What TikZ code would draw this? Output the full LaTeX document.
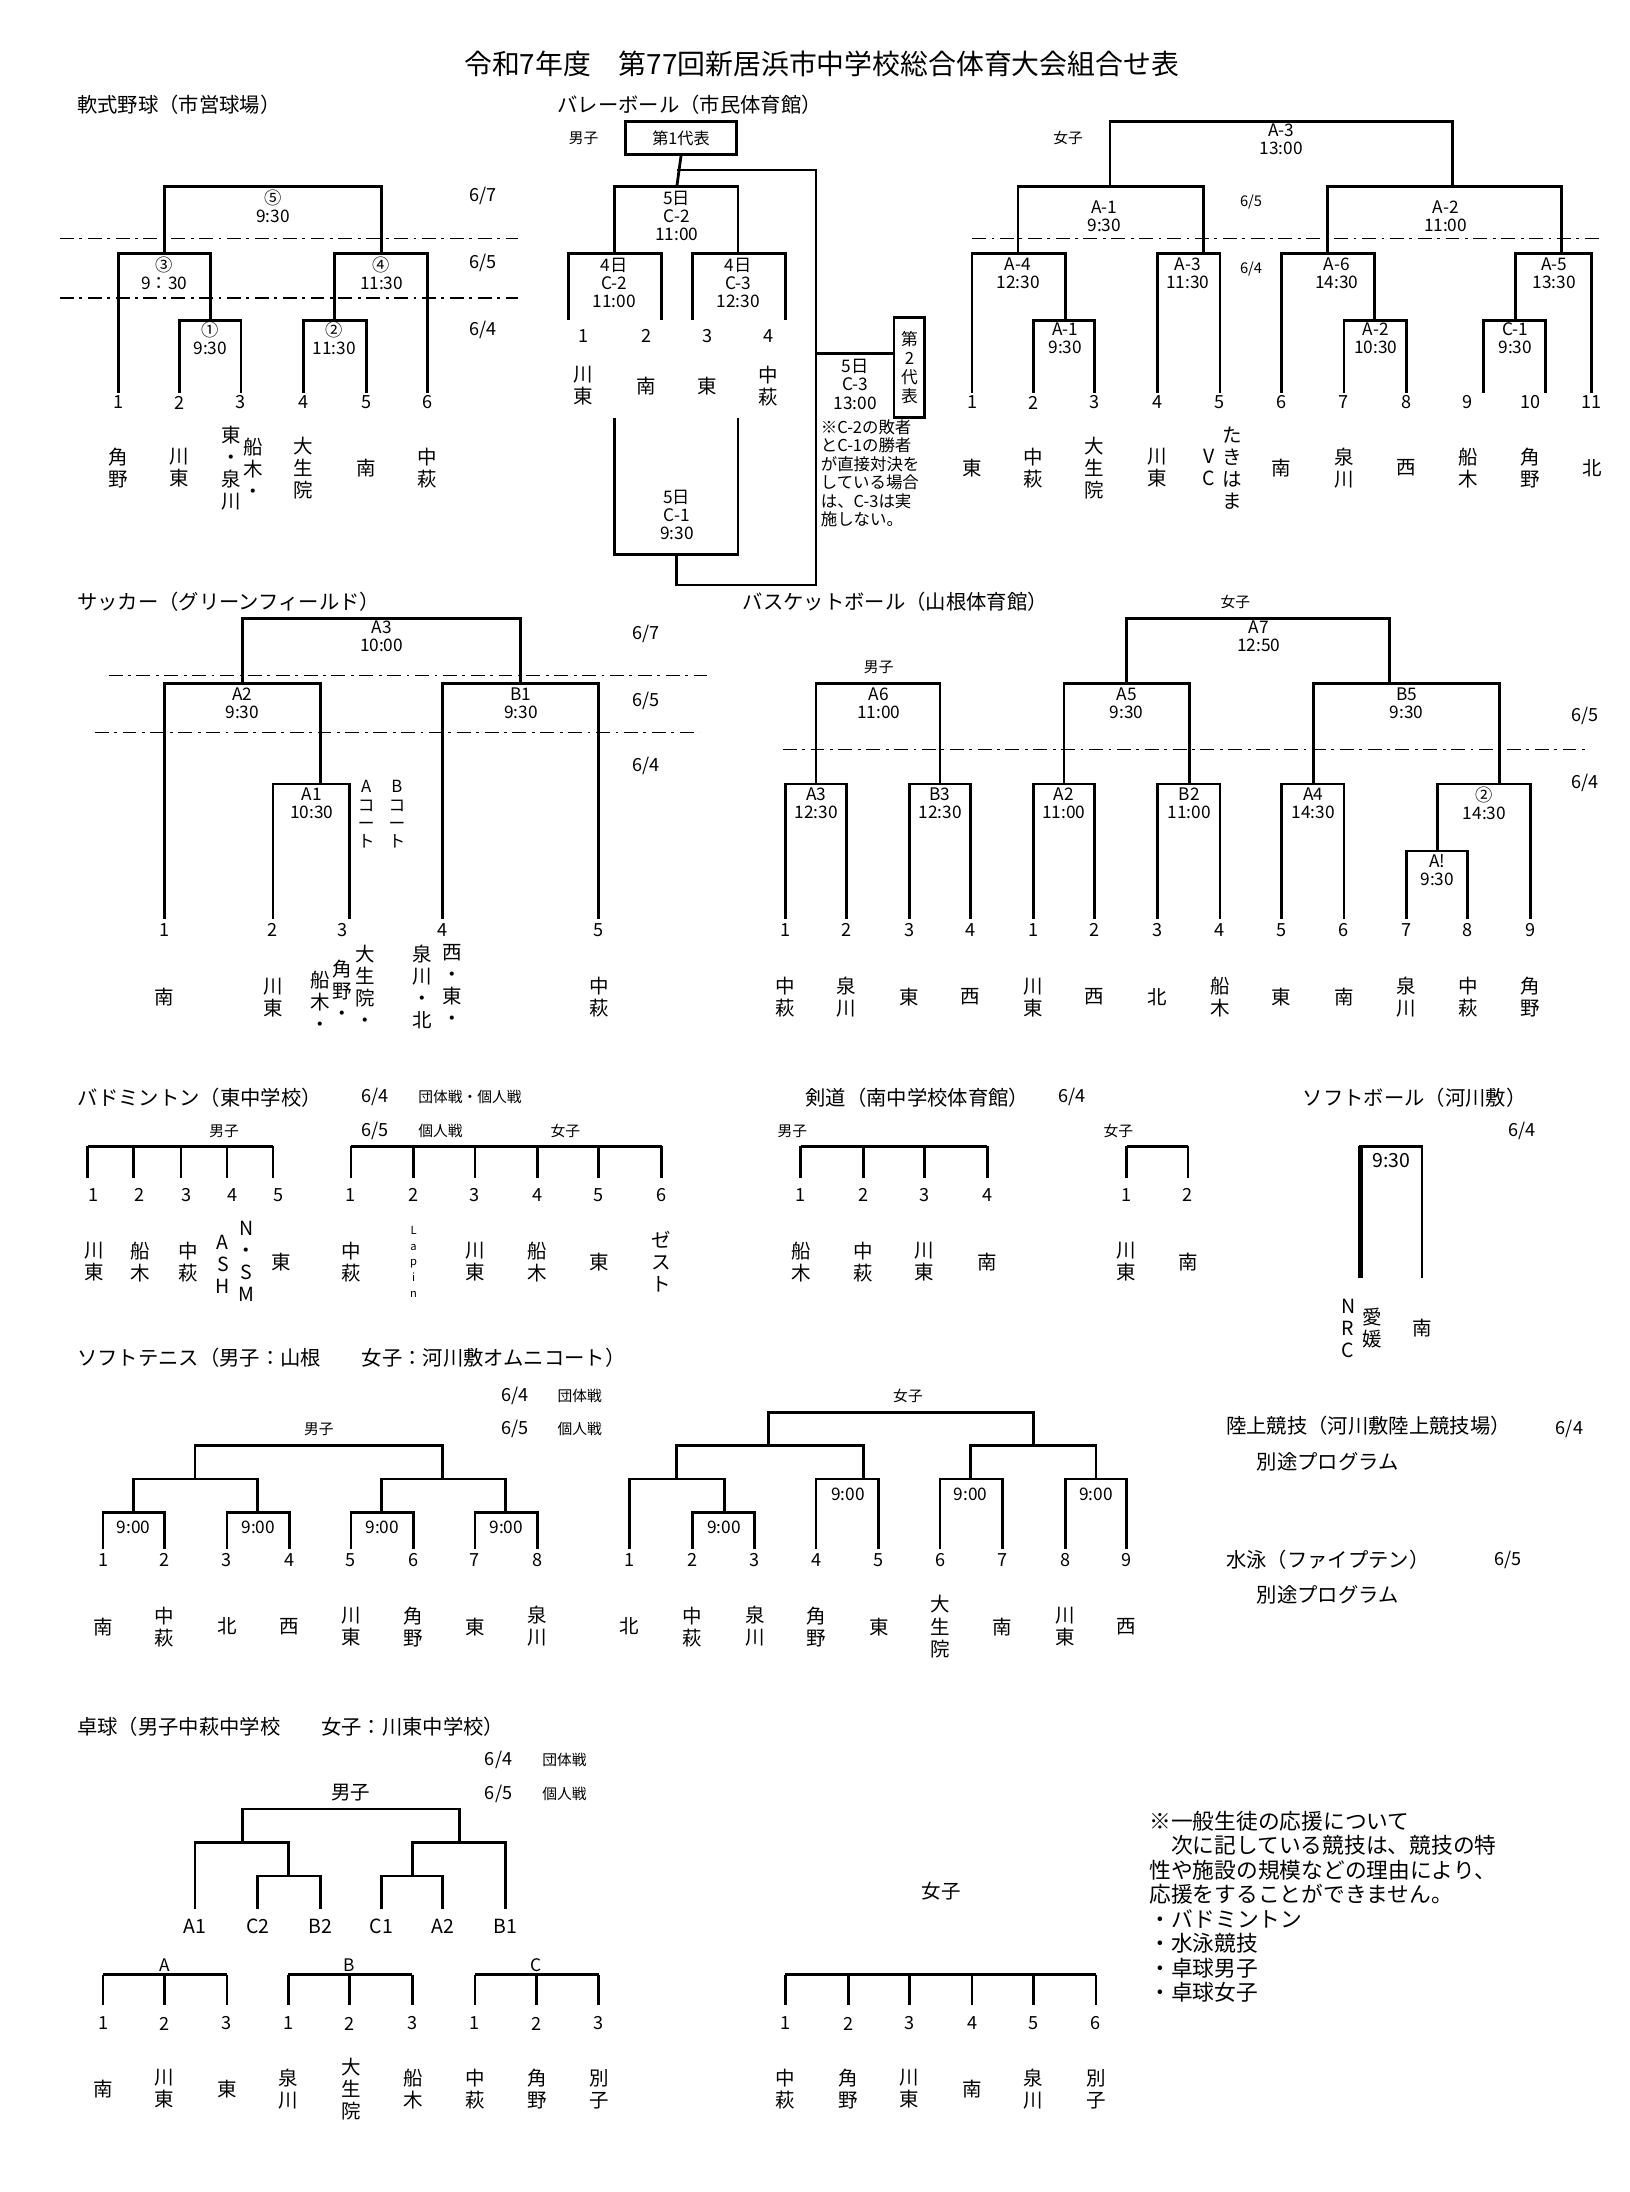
\documentclass[tikz,border=0pt]{standalone}
\usepackage{fontspec}
\setmainfont{Noto Sans CJK JP}
\tikzset{
  br/.style={line width=1pt},
  dd/.style={line width=0.4pt, dash pattern=on 5pt off 2pt on 1pt off 2pt},
  lb/.style={font=\fontsize{6.2}{6.5}\selectfont, align=center, inner sep=0pt},
  nm/.style={font=\fontsize{7}{7.9}\selectfont, align=center, inner sep=0pt},
  num/.style={font=\fontsize{6.5}{7}\selectfont, inner sep=0pt},
  ttl/.style={font=\fontsize{7.3}{8}\selectfont, anchor=west, inner sep=0pt},
  sm/.style={font=\fontsize{5.3}{6}\selectfont, anchor=west, inner sep=0pt},
}
% bracket: left x, right x, top y, left end y, right end y
\newcommand\mt[5]{\draw[br] (#1,#4) |- (#2,#3) -- (#2,#5);}
\begin{document}
\begin{tikzpicture}[x=0.5pt, y=-0.5pt]
\useasboundingbox (0,0) rectangle (1170,1574);
\node[font=\fontsize{10}{11}\selectfont] (title) at (590,46) {令和7年度　第77回新居浜市中学校総合体育大会組合せ表};

% 軟式野球
\node[ttl] (bb) at (55,75) {軟式野球（市営球場）};
\draw[dd] (43,171) -- (372,171);
\draw[dd] (43,214) -- (372,214);
\mt{118}{274}{134}{182}{182}
\mt{85}{151}{182}{282}{230}
\mt{129}{173}{230}{282}{282}
\mt{240}{307}{182}{230}{282}
\mt{218}{263}{230}{282}{282}
\node[lb] at (196,148) {⑤\\9:30};
\node[lb] at (118,196) {③\\9：30};
\node[lb] at (151,243) {①\\9:30};
\node[lb] at (274,196) {④\\11:30};
\node[lb] at (240,243) {②\\11:30};
\node[num] at (347,141) {6/7};
\node[num] at (347,189) {6/5};
\node[num] at (347,237) {6/4};
\foreach \x [count=\i] in {85,129,173,218,263,307} \node[num] at (\x,289) {\i};
\foreach \x/\t in {85/{角\\野},129/{川\\東},166/{東\\・\\泉\\川},182/{船\\木\\・},218/{大\\生\\院},263/{南},307/{中\\萩}}
  \node[nm] at (\x,336) {\t};

% バレーボール
\node[ttl] (vb) at (400,75) {バレーボール（市民体育館）};
\node[sm] at (408,99) {男子};
\node[draw, br, minimum width=40pt, minimum height=12pt, inner sep=0pt, font=\fontsize{5.8}{6}\selectfont] (rep1) at (489,99) {第1代表};
\draw[br] (rep1.south) -- (486,134);
\mt{441}{530}{134}{182}{182}
\mt{408}{475}{182}{230}{230}
\mt{497}{564}{182}{230}{230}
\draw[br] (486,122) -- (586,122) -- (586,420) -- (486,420) -- (486,398);
\draw[br] (441,300) |- (530,398) -- (530,300);
\node[draw, br, minimum width=11pt, minimum height=36pt, inner sep=0pt, align=center, font=\fontsize{6}{6.8}\selectfont] (rep2) at (653,264) {第\\2\\代\\表};
\draw[br] (586,254) -- (rep2.west |- 0,254);
\node[lb] at (486,155) {5日\\C-2\\11:00};
\node[lb] at (441,203) {4日\\C-2\\11:00};
\node[lb] at (530,203) {4日\\C-3\\12:30};
\node[lb] at (614,276) {5日\\C-3\\13:00};
\node[lb] at (486,370) {5日\\C-1\\9:30};
\node[lb, anchor=north west, align=left, font=\fontsize{5.9}{6.6}\selectfont] at (589,301) {※C-2の敗者\\とC-1の勝者\\が直接対決を\\している場合\\は、C-3は実\\施しない。};
\foreach \x [count=\i] in {419,464,508,552} \node[num] at (\x,241) {\i};
\foreach \x/\t in {419/{川\\東},464/{南},508/{東},552/{中\\萩}} \node[nm] at (\x,277) {\t};
% 女子
\node[sm] at (756,99) {女子};
\draw[dd] (698,171) -- (1150,171);
\mt{797}{1043}{87}{134}{134}
\mt{731}{864}{134}{182}{182}
\mt{953}{1121}{134}{182}{182}
\mt{698}{765}{182}{282}{230}
\mt{742}{786}{230}{282}{282}
\mt{831}{876}{182}{282}{282}
\mt{920}{987}{182}{282}{230}
\mt{965}{1010}{230}{282}{282}
\mt{1088}{1143}{182}{230}{282}
\mt{1065}{1110}{230}{282}{282}
\node[lb] at (920,100) {A-3\\13:00};
\node[lb] at (793,155) {A-1\\9:30};
\node[lb] at (1038,155) {A-2\\11:00};
\node[lb] at (731,196) {A-4\\12:30};
\node[lb] at (765,243) {A-1\\9:30};
\node[lb] at (853,196) {A-3\\11:30};
\node[lb] at (960,196) {A-6\\14:30};
\node[lb] at (988,243) {A-2\\10:30};
\node[lb] at (1116,196) {A-5\\13:30};
\node[lb] at (1088,243) {C-1\\9:30};
\node[sm] at (890,145) {6/5};
\node[sm] at (890,193) {6/4};
\foreach \x [count=\i] in {698,742,786,831,876,920,965,1010,1054,1099,1143} \node[num] at (\x,289) {\i};
\foreach \x/\t in {698/{東},742/{中\\萩},786/{大\\生\\院},831/{川\\東},868/{V\\C},885/{た\\き\\は\\ま},920/{南},965/{泉\\川},1010/{西},1054/{船\\木},1099/{角\\野},1143/{北}}
  \node[nm] at (\x,336) {\t};

% サッカー
\node[ttl] (sc) at (55,432) {サッカー（グリーンフィールド）};
\draw[dd] (78,485) -- (510,485);
\draw[dd] (68,526) -- (502,526);
\mt{174}{374}{444}{491}{491}
\mt{118}{230}{491}{660}{563}
\mt{196}{251}{563}{660}{660}
\mt{318}{430}{491}{660}{660}
\node[lb] at (274,457) {A3\\10:00};
\node[lb] at (174,505) {A2\\9:30};
\node[lb] at (224,577) {A1\\10:30};
\node[lb] at (374,505) {B1\\9:30};
\node[num] at (464,455) {6/7};
\node[num] at (464,503) {6/5};
\node[num] at (464,550) {6/4};
\node[lb, anchor=north, font=\fontsize{6}{6.6}\selectfont] at (263,560) {A\\コ\\ー\\ト};
\node[lb, anchor=north, font=\fontsize{6}{6.6}\selectfont] at (285,560) {B\\コ\\ー\\ト};
\foreach \x [count=\i] in {118,196,246,318,430} \node[num] at (\x,668) {\i};
\foreach \x/\t in {118/{南},196/{川\\東},430/{中\\萩}} \node[nm] at (\x,716) {\t};
\foreach \x/\y/\t in {230/{705}/{船\\木\\・},246/{697}/{角\\野\\・},262/{686}/{大\\生\\院\\・},303/{686}/{泉\\川\\・\\北},325/{686}/{西\\・\\東\\・}}
  \node[nm, anchor=north] at (\x,\y-8) {\t};

% バスケットボール
\node[ttl] (bk) at (533,432) {バスケットボール（山根体育館）};
\node[sm] at (876,432) {女子};
\node[sm] at (620,479) {男子};
\draw[dd] (562,538) -- (1138,538);
\mt{809}{998}{444}{491}{491}
\mt{586}{675}{491}{563}{563}
\mt{764}{854}{491}{563}{563}
\mt{943}{1077}{491}{563}{563}
\foreach \a/\b in {564/608,653/697,742/786,831/876,920/965} {\mt{\a}{\b}{563}{660}{660}}
\mt{1032}{1099}{563}{611}{660}
\mt{1010}{1054}{611}{660}{660}
\node[lb] at (904,457) {A7\\12:50};
\node[lb] at (631,505) {A6\\11:00};
\node[lb] at (809,505) {A5\\9:30};
\node[lb] at (1010,505) {B5\\9:30};
\node[lb] at (586,577) {A3\\12:30};
\node[lb] at (675,577) {B3\\12:30};
\node[lb] at (764,577) {A2\\11:00};
\node[lb] at (854,577) {B2\\11:00};
\node[lb] at (943,577) {A4\\14:30};
\node[lb] at (1066,577) {②\\14:30};
\node[lb] at (1032,625) {A!\\9:30};
\node[num] at (1138,514) {6/5};
\node[num] at (1138,562) {6/4};
\foreach \x/\n in {564/1,608/2,653/3,697/4,742/1,786/2,831/3,876/4,920/5,965/6,1010/7,1054/8,1099/9} \node[num] at (\x,668) {\n};
\foreach \x/\t in {564/{中\\萩},608/{泉\\川},653/{東},697/{西},742/{川\\東},786/{西},831/{北},876/{船\\木},920/{東},965/{南},1010/{泉\\川},1054/{中\\萩},1099/{角\\野}}
  \node[nm] at (\x,716) {\t};

% バドミントン
\node[ttl] (bd) at (55,788) {バドミントン（東中学校）};
\node[num] at (269,788) {6/4};
\node[sm] at (300,788) {団体戦・個人戦};
\node[num] at (269,812) {6/5};
\node[sm] at (300,812) {個人戦};
\node[sm] at (150,812) {男子};
\node[sm] at (395,812) {女子};
\draw[br] (63,823) -- (196,823);
\foreach \x [count=\i] in {63,96,130,163,196} {\draw[br] (\x,823) -- (\x,846); \node[num] at (\x+4,858) {\i};}
\foreach \x/\t in {68/{川\\東},101/{船\\木},135/{中\\萩},202/{東}} \node[nm] at (\x,906) {\t};
\node[nm] at (160,908) {A\\S\\H};
\node[nm] at (177,906) {N\\・\\S\\M};
\draw[br] (252,823) -- (475,823);
\foreach \x [count=\i] in {252,297,341,386,430,475} {\draw[br] (\x,823) -- (\x,846); \node[num] at (\x,858) {\i};}
\foreach \x/\t in {252/{中\\萩},341/{川\\東},386/{船\\木},430/{東},475/{ゼ\\ス\\ト}} \node[nm] at (\x,906) {\t};
\node[lb, font=\fontsize{4}{5.6}\selectfont] at (297,906) {L\\a\\p\\i\\n};

% 剣道
\node[ttl] (kd) at (578,788) {剣道（南中学校体育館）};
\node[num] at (770,788) {6/4};
\node[sm] at (558,812) {男子};
\node[sm] at (792,812) {女子};
\draw[br] (575,823) -- (709,823);
\foreach \x [count=\i] in {575,620,664,709} {\draw[br] (\x,823) -- (\x,846); \node[num] at (\x,858) {\i};}
\foreach \x/\t in {575/{船\\木},620/{中\\萩},664/{川\\東},709/{南}} \node[nm] at (\x,906) {\t};
\draw[br] (809,823) -- (853,823);
\foreach \x [count=\i] in {809,853} {\draw[br] (\x,823) -- (\x,846); \node[num] at (\x,858) {\i};}
\foreach \x/\t in {809/{川\\東},853/{南}} \node[nm] at (\x,906) {\t};

% ソフトボール
\node[ttl] (sb) at (935,788) {ソフトボール（河川敷）};
\node[num] at (1093,812) {6/4};
\draw[br] (977,918) -- (977,823) -- (1021,823) -- (1021,918);
\draw[line width=2pt] (977,823) -- (977,918);
\node[lb, font=\fontsize{7}{7.5}\selectfont] at (999,833) {9:30};
\node[nm] at (968,954) {N\\R\\C};
\node[nm] at (985,954) {愛\\媛};
\node[nm] at (1021,954) {南};

% ソフトテニス
\node[ttl] (st) at (55,975) {ソフトテニス（男子：山根　　女子：河川敷オムニコート）};
\node[num] at (370,1002) {6/4};
\node[sm] at (400,1002) {団体戦};
\node[num] at (370,1026) {6/5};
\node[sm] at (400,1026) {個人戦};
\node[sm] at (218,1026) {男子};
\node[sm] at (641,1002) {女子};
\mt{140}{318}{1038}{1062}{1062}
\mt{96}{185}{1062}{1086}{1086}
\mt{274}{363}{1062}{1086}{1086}
\foreach \a/\b in {74/118,163/208,252/297,341/386} {\mt{\a}{\b}{1086}{1112}{1112} \node[lb] at ({(\a+\b)/2},1097) {9:00};}
\foreach \x [count=\i] in {74,118,163,208,252,297,341,386} \node[num] at (\x,1120) {\i};
\foreach \x/\t in {74/{南},118/{中\\萩},163/{北},208/{西},252/{川\\東},297/{角\\野},341/{東},386/{泉\\川}} \node[nm] at (\x,1168) {\t};
\mt{552}{742}{1014}{1038}{1038}
\mt{486}{620}{1038}{1062}{1062}
\mt{452}{520}{1062}{1112}{1086}
\mt{497}{542}{1086}{1112}{1112}
\mt{586}{631}{1062}{1112}{1112}
\mt{697}{787}{1038}{1062}{1062}
\mt{675}{720}{1062}{1112}{1112}
\mt{765}{809}{1062}{1112}{1112}
\node[lb] at (520,1097) {9:00};
\node[lb] at (609,1073) {9:00};
\node[lb] at (697,1073) {9:00};
\node[lb] at (787,1073) {9:00};
\foreach \x [count=\i] in {452,497,542,586,631,675,720,765,809} \node[num] at (\x,1120) {\i};
\foreach \x/\t in {452/{北},497/{中\\萩},542/{泉\\川},586/{角\\野},631/{東},675/{大\\生\\院},720/{南},765/{川\\東},809/{西}} \node[nm] at (\x,1168) {\t};

% 陸上・水泳
\node[ttl] (ath) at (880,1024) {陸上競技（河川敷陸上競技場）};
\node[num] at (1127,1026) {6/4};
\node[ttl] at (902,1050) {別途プログラム};
\node[ttl] (sw) at (880,1120) {水泳（ファイプテン）};
\node[num] at (1083,1120) {6/5};
\node[ttl] at (902,1145) {別途プログラム};

% 卓球
\node[ttl] (tt) at (55,1240) {卓球（男子中萩中学校　　女子：川東中学校）};
\node[num] at (358,1264) {6/4};
\node[sm] at (389,1264) {団体戦};
\node[num] at (358,1288) {6/5};
\node[sm] at (389,1288) {個人戦};
\node[nm] at (252,1287) {男子};
\mt{174}{330}{1299}{1323}{1323}
\mt{140}{207}{1323}{1371}{1347}
\mt{185}{230}{1347}{1371}{1371}
\mt{296}{363}{1323}{1347}{1371}
\mt{274}{318}{1347}{1371}{1371}
\foreach \x/\t in {140/A1,185/C2,230/B2,274/C1,318/A2,363/B1} \node[nm] at (\x,1383) {\t};
\foreach \a/\g in {74/A,207/B,341/C} {
  \draw[br] (\a,1418) -- (\a+89,1418);
  \node[lb] at (\a+44,1411) {\g};
  \foreach \d [count=\i] in {0,44,89} {\draw[br] (\a+\d,1418) -- (\a+\d,1440); \node[num] at (\a+\d,1453) {\i};}}
\foreach \x/\t in {74/{南},118/{川\\東},163/{東},207/{泉\\川},252/{大\\生\\院},297/{船\\木},341/{中\\萩},386/{角\\野},430/{別\\子}} \node[nm] at (\x,1500) {\t};
\node[nm] at (676,1358) {女子};
\draw[br] (564,1418) -- (787,1418);
\foreach \x [count=\i] in {564,609,653,698,742,787} {\draw[br] (\x,1418) -- (\x,1440); \node[num] at (\x,1453) {\i};}
\foreach \x/\t in {564/{中\\萩},609/{角\\野},653/{川\\東},698/{南},742/{泉\\川},787/{別\\子}} \node[nm] at (\x,1500) {\t};

\node[anchor=north west, align=left, inner sep=0pt, font=\fontsize{7.8}{8.8}\selectfont] (note) at (825,1300) {※一般生徒の応援について\\　次に記している競技は、競技の特\\性や施設の規模などの理由により、\\応援をすることができません。\\・バドミントン\\・水泳競技\\・卓球男子\\・卓球女子};
\end{tikzpicture}
\end{document}
